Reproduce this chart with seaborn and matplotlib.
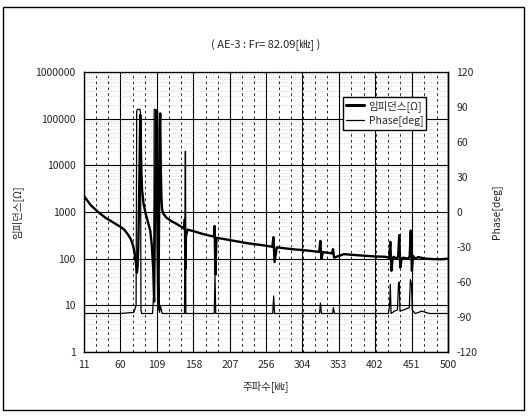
import matplotlib
matplotlib.use('Agg')
import pandas as pd
import matplotlib.pyplot as plt
from matplotlib.lines import Line2D
from matplotlib.ticker import LogLocator, NullFormatter, AutoMinorLocator
import seaborn as sns

# 눈금 (kHz)
freq_ticks = [11, 60, 109, 158, 207, 256, 304, 353, 402, 451, 500]
imp_ticks = [1, 10, 100, 1000, 10000, 100000, 1000000]
imp_tick_labels = ['1', '10', '100', '1000', '10000', '100000', '1000000']
phase_ticks = [-120, -90, -60, -30, 0, 30, 60, 90, 120]

# 임피던스 곡선
imp_freq = [11, 20, 30, 40, 50, 60, 65, 70, 74, 77, 79, 80.5, 81.5, 82.1, 83, 84, 85, 86,
            86.6, 87.2, 88, 89, 91, 94, 97, 100, 102, 104, 105.2, 106, 107, 108, 108.8,
            109.5, 110.3, 111, 111.8, 112.6, 113.4, 114.2, 115, 116, 118, 122, 128, 135,
            142, 145.5, 146.5, 147.2, 148, 150, 160, 170, 180, 185.5, 186.5, 187.5, 189,
            195, 210, 230, 250, 264, 265.5, 267, 270, 290, 310, 327, 328.5, 330, 332, 344,
            345.5, 347, 360, 380, 400, 415, 421, 422.5, 424, 425.5, 427, 431, 433, 434.5,
            436, 437.5, 440, 446, 448.5, 450, 451.5, 453, 456, 460, 470, 480, 490, 500]
imp_ohm = [2200, 1400, 1000, 750, 600, 480, 420, 330, 260, 190, 130, 85, 60, 50, 70, 200,
           2000, 30000, 120000, 40000, 8000, 3000, 1500, 900, 600, 400, 200, 60, 12, 300,
           8000, 150000, 20000, 800, 30, 10, 500, 60000, 130000, 8000, 2000, 1100, 900,
           750, 640, 560, 480, 440, 700, 60, 300, 420, 380, 340, 310, 300, 500, 45, 280,
           270, 245, 215, 195, 180, 290, 85, 175, 160, 150, 140, 240, 100, 138, 130, 160,
           105, 125, 118, 112, 110, 105, 230, 55, 100, 110, 100, 110, 320, 65, 100, 105,
           100, 110, 400, 55, 115, 100, 108, 100, 98, 97, 100]

# 위상 곡선
phase_freq = [11, 60, 78, 81, 81.8, 82.5, 86.3, 86.9, 87.5, 88.5, 103, 104.8, 105.3, 106.5,
              110, 110.5, 111.5, 112.5, 113.5, 116, 146, 147, 147.4, 147.8, 186, 187, 188,
              264.5, 265.8, 267, 327.5, 328.6, 330, 345, 346, 347.5, 420, 421.5, 422.5,
              423.5, 428, 432, 433.5, 434.5, 435.5, 440, 448, 449.5, 451, 452, 456, 465,
              475, 500]
phase_deg = [-87, -87, -86, -80, 86, 88, 88, 85, -84, -87, -87, -70, 88, 88, 86, -84, -78,
             -86, -80, -87, -87, 52, 52, -87, -87, -55, -87, -87, -72, -87, -87, -78, -87,
             -87, -82, -87, -87, -80, -62, -87, -85, -84, -62, -60, -85, -84, -82, -58,
             -62, -84, -87, -85, -87, -87]

imp_df = pd.DataFrame({'freq': imp_freq, 'ohm': imp_ohm})
phase_df = pd.DataFrame({'freq': phase_freq, 'deg': phase_deg})

sns.set_style('white')
plt.rcParams['font.family'] = ['Noto Sans CJK KR', 'DejaVu Sans']
plt.rcParams['axes.unicode_minus'] = False

fig = plt.figure(figsize=(5.28, 4.16), dpi=100)
ax = fig.add_axes([84 / 528, 64 / 416, 364 / 528, 280 / 416])
ax2 = ax.twinx()

sns.lineplot(data=imp_df, x='freq', y='ohm', ax=ax, color='black', lw=1.7,
             estimator=None, sort=False, legend=False)
sns.lineplot(data=phase_df, x='freq', y='deg', ax=ax2, color='black', lw=0.9,
             estimator=None, sort=False, legend=False)

ax.set_yscale('log')
ax.set_xlim(11, 500)
ax.set_ylim(1, 1000000)
ax2.set_ylim(-120, 120)
ax.set_xticks(freq_ticks)
ax.set_xticklabels([str(t) for t in freq_ticks])
ax.set_yticks(imp_ticks)
ax.set_yticklabels(imp_tick_labels)
ax.yaxis.set_minor_locator(LogLocator(base=10, subs=range(2, 10)))
ax.yaxis.set_minor_formatter(NullFormatter())
ax.xaxis.set_minor_locator(AutoMinorLocator(3))
ax2.set_yticks(phase_ticks)
ax2.set_yticklabels([str(t) for t in phase_ticks])

ax.grid(which='major', axis='both', color='black', lw=0.8)
ax.grid(which='minor', axis='x', color='black', lw=0.6, ls=(0, (3, 4)))
ax.grid(which='minor', axis='y', color='0.55', lw=0.4, ls=(0, (1, 3)))
ax.set_axisbelow(True)

ax.tick_params(axis='both', which='both', length=0, labelsize=7.5, pad=6)
ax2.tick_params(axis='y', length=0, labelsize=7.5, pad=6)
ax.set_xlabel('')
ax.set_ylabel('')
ax2.set_ylabel('')

for name, sp in ax.spines.items():
    sp.set_color('black')
    sp.set_linewidth(1.0)
ax.spines['top'].set_linestyle(':')
ax2.spines['top'].set_visible(False)
ax2.spines['left'].set_visible(False)
ax2.spines['bottom'].set_visible(False)
ax2.spines['right'].set_color('black')
ax2.spines['right'].set_linewidth(1.0)

handles = [Line2D([], [], color='black', lw=2.2), Line2D([], [], color='black', lw=0.9)]
labels = ['임피던스[Ω]', 'Phase[deg]']
leg = ax2.legend(handles, labels, loc='upper right', bbox_to_anchor=(0.955, 0.93),
                 frameon=True, fancybox=False, edgecolor='black', framealpha=1,
                 fontsize=7.5, handlelength=1.8, borderpad=0.3, labelspacing=0.35,
                 handletextpad=0.4)
leg.get_frame().set_linewidth(1.0)

fig.text(266 / 528, 1 - 45 / 416, '( AE-3 : Fr= 82.09[㎑] )', ha='center', va='center', fontsize=8)
fig.text(266 / 528, 1 - 386 / 416, '주파수[㎑]', ha='center', va='center', fontsize=7.5)
fig.text(17 / 528, 1 - 212 / 416, '임피던스[Ω]', ha='center', va='center', rotation=90, fontsize=7.5)
fig.text(497 / 528, 1 - 212 / 416, 'Phase[deg]', ha='center', va='center', rotation=90, fontsize=7.5)

fig.add_artist(plt.Rectangle((3 / 528, 6 / 416), 521 / 528, 403 / 416, transform=fig.transFigure,
                             fill=False, ec='black', lw=1.0))

fig.savefig('out.png', dpi=100)
